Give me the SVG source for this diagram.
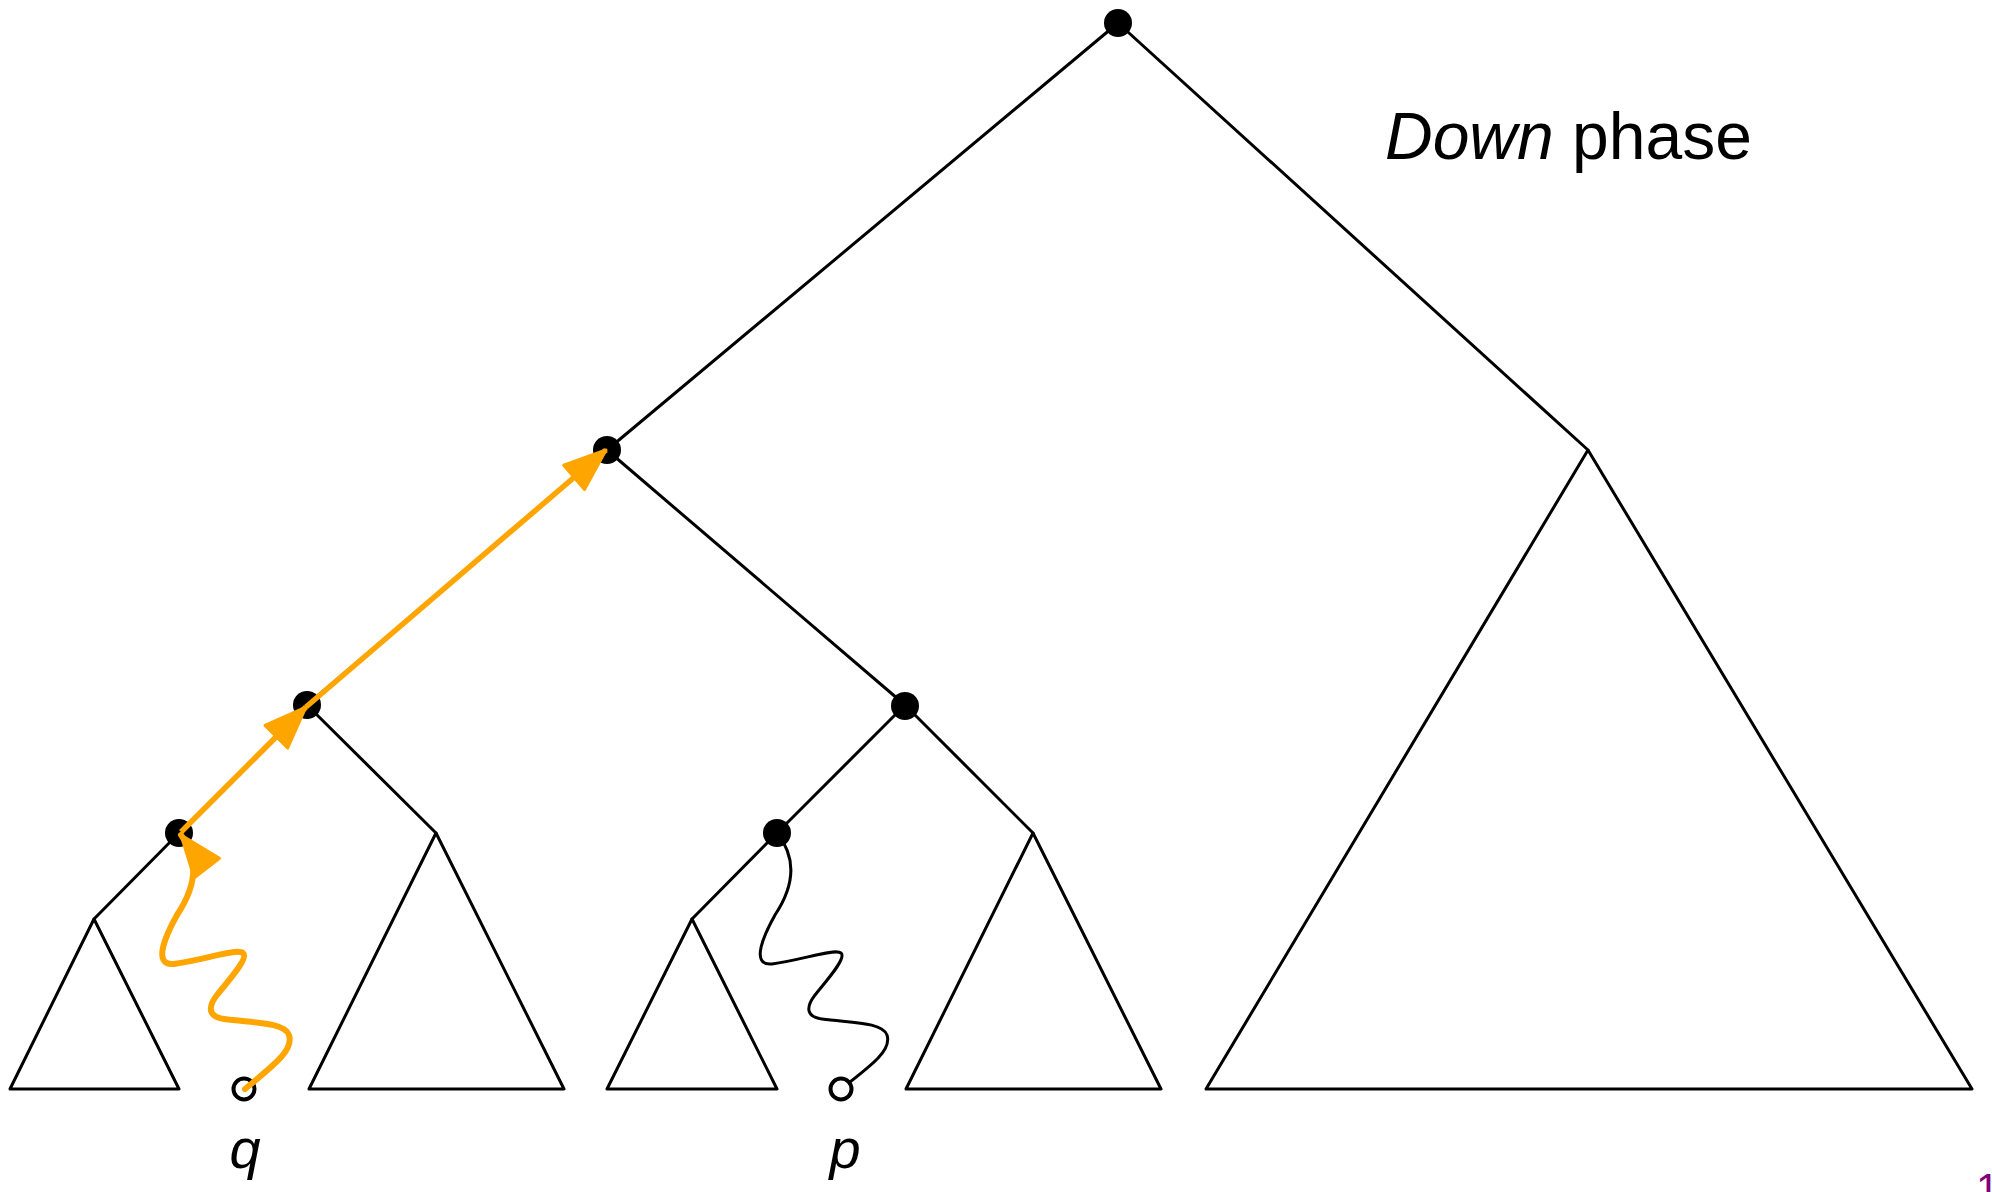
<svg xmlns="http://www.w3.org/2000/svg" width="1992" height="1192" viewBox="0 0 1992 1192">
  <style>
    .edge { stroke: #000; stroke-width: 3; fill: none; stroke-linejoin: round; stroke-linecap: round; }
    .tri { stroke: #000; stroke-width: 3; fill: none; stroke-linejoin: round; }
    .node { fill: #000; }
    .leaf { fill: #fff; stroke: #000; stroke-width: 4; }
    .wave { stroke: #000; stroke-width: 3; fill: none; }
    .owave { stroke: #FFA500; stroke-width: 6; fill: none; stroke-linecap: round; }
    .oline { stroke: #FFA500; stroke-width: 5.5; fill: none; }
    .lbl { font-family: "Liberation Sans", Arial, sans-serif; fill: #000; }
  </style>
  <defs>
    <marker id="oarrow" markerUnits="userSpaceOnUse" markerWidth="54" markerHeight="42" refX="42" refY="18" orient="auto-start-reverse" viewBox="-4 -3 54 42">
      <path d="M0,2 L42,18 L0,34 Z" fill="#FFA500" stroke="#FFA500" stroke-width="3" stroke-linejoin="round"/>
    </marker>
  </defs>

  <g id="edges">
    <path class="edge" d="M1118,23 L607,450"/>
    <path class="edge" d="M1118,23 L1588,450"/>
    <path class="edge" d="M607,450 L307,705"/>
    <path class="edge" d="M607,450 L905,705"/>
    <path class="edge" d="M307,705 L179,833"/>
    <path class="edge" d="M307,705 L436,833"/>
    <path class="edge" d="M179,833 L94,919"/>
    <path class="edge" d="M905,705 L777,833"/>
    <path class="edge" d="M905,705 L1033,833"/>
    <path class="edge" d="M777,833 L692,919"/>
  </g>

  <g id="subtree-right"><path class="tri" d="M1588,450 L1972,1089 L1206,1089 Z"/></g>
  <g id="subtree-b2"><path class="tri" d="M436,833 L564,1089 L309,1089 Z"/></g>
  <g id="subtree-d1"><path class="tri" d="M94,919 L179,1089 L10,1089 Z"/></g>
  <g id="subtree-c2"><path class="tri" d="M1033,833 L1161,1089 L906,1089 Z"/></g>
  <g id="subtree-e1"><path class="tri" d="M692,919 L777,1089 L607,1089 Z"/></g>

  <g id="connectors">
    <path class="wave" d="M777,833 C797,858 795,885 775,915 C765,933 749,966 772,964 C802,960 835,948 841,953 C847,958 827,980 815,995 C805,1008 807,1017 822,1019 C852,1023 882,1022 887,1035 C892,1050 872,1065 841,1089"/>
  </g>

  <g id="node-root"><circle class="node" cx="1118" cy="23" r="14"/></g>
  <g id="node-a"><circle class="node" cx="607" cy="450" r="14"/></g>
  <g id="node-b"><circle class="node" cx="307" cy="705" r="14"/></g>
  <g id="node-c"><circle class="node" cx="905" cy="706" r="14"/></g>
  <g id="node-d"><circle class="node" cx="179" cy="833" r="14"/></g>
  <g id="node-e"><circle class="node" cx="777" cy="833" r="14"/></g>
  <g id="leaf-q"><circle class="leaf" cx="244" cy="1089" r="10.5"/></g>
  <g id="leaf-p"><circle class="leaf" cx="841" cy="1089" r="10.5"/></g>

  <g id="orange-path">
    <path class="owave" marker-start="url(#oarrow)" d="M181,835 C199,858 197,885 177,915 C167,933 151,966 174,964 C204,960 237,948 243,953 C249,958 229,980 217,995 C207,1008 209,1017 224,1019 C254,1023 284,1022 289,1035 C294,1050 274,1065 245,1089"/>
    <path class="oline" marker-end="url(#oarrow)" d="M181,832 L306,707"/>
    <path class="oline" marker-end="url(#oarrow)" d="M306,707 L606,450"/>
  </g>

  <g id="labels">
    <text class="lbl" x="1385" y="159" font-size="66"><tspan font-style="italic">Down</tspan> phase</text>
    <text class="lbl" x="245" y="1168" font-size="56" font-style="italic" text-anchor="middle">q</text>
    <text class="lbl" x="845" y="1168" font-size="56" font-style="italic" text-anchor="middle">p</text>
    <text x="1976" y="1203" font-family="Liberation Sans, Arial, sans-serif" font-size="42" fill="#800080">1</text>
  </g>
</svg>
